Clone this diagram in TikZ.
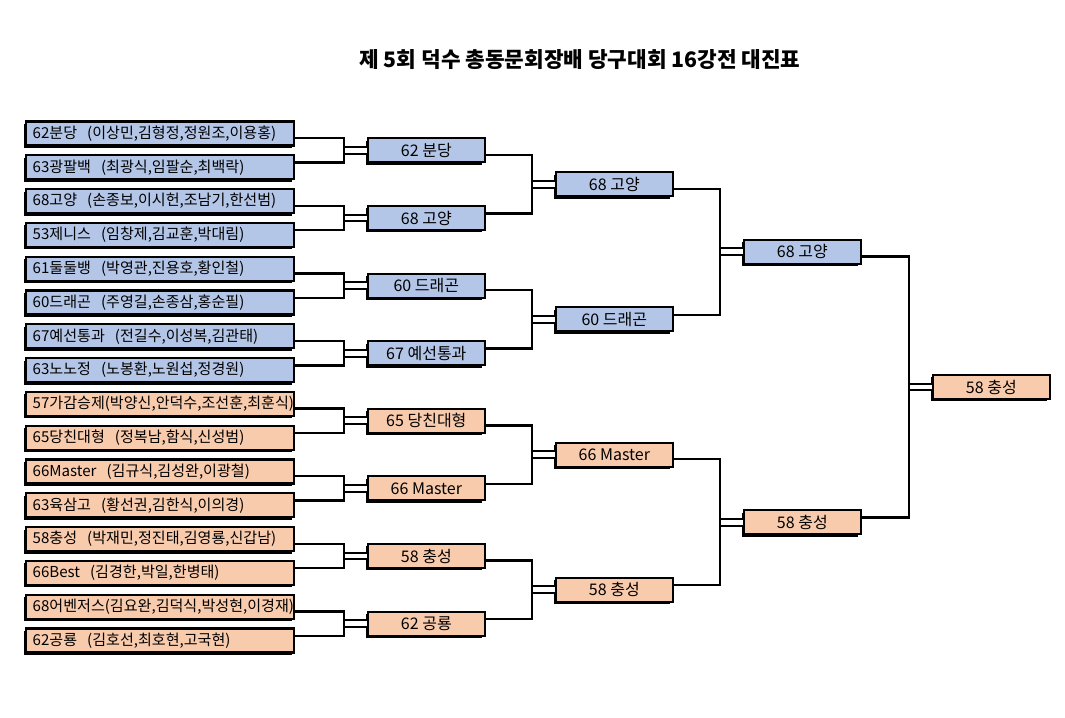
\documentclass[tikz,border=0pt]{standalone}
\usepackage{fontspec}
\newfontfamily\kr{Noto Sans CJK KR}
\usetikzlibrary{positioning,calc,shadows}

\definecolor{teamblue}{HTML}{B4C6E7}
\definecolor{teampeach}{HTML}{F8CBAD}

\begin{document}
\begin{tikzpicture}[x=0.75pt, y=-0.75pt, font=\kr\fontsize{11.3}{13}\selectfont,
          box/.style={draw, line width=1.6pt, minimum height=18pt, inner ysep=2pt,
                      drop shadow={shadow xshift=-1.8pt, shadow yshift=-1.8pt,
                                   fill=black, opacity=1}},
          team/.style={box, anchor=west, inner xsep=5pt, text width=191pt, align=left},
          win/.style={box, anchor=west, minimum width=87.4pt, text centered,
                      font=\kr\fontsize{12}{14}\selectfont},
          link/.style={line width=1.8pt},
          twin/.style={double, line width=1.5pt, double distance=3.5pt}]
        \useasboundingbox (0,0) rectangle (1065,718);
        \node[font=\kr\bfseries\fontsize{16}{18}\selectfont] (title) at (580,60)
          {제 5회 덕수 총동문회장배 당구대회 16강전 대진표};
        % 16 teams
        \node[team, fill=teamblue]  (t1)  at (25,133.5) {62분당\ \ (이상민,김형정,정원조,이용홍)};
        \node[team, fill=teamblue]  (t2)  at (25,167.3) {63광팔백\ \ (최광식,임팔순,최백락)};
        \node[team, fill=teamblue]  (t3)  at (25,201.1) {68고양\ \ (손종보,이시헌,조남기,한선범)};
        \node[team, fill=teamblue]  (t4)  at (25,234.9) {53제니스\ \ (임창제,김교훈,박대림)};
        \node[team, fill=teamblue]  (t5)  at (25,268.7) {61둘둘뱅\ \ (박영관,진용호,황인철)};
        \node[team, fill=teamblue]  (t6)  at (25,302.5) {60드래곤\ \ (주영길,손종삼,홍순필)};
        \node[team, fill=teamblue]  (t7)  at (25,336.3) {67예선통과\ \ (전길수,이성복,김관태)};
        \node[team, fill=teamblue]  (t8)  at (25,370.1) {63노노정\ \ (노봉환,노원섭,정경원)};
        \node[team, fill=teampeach] (t9)  at (25,403.9) {57가감승제(박양신,안덕수,조선훈,최훈식)};
        \node[team, fill=teampeach] (t10) at (25,437.7) {65당친대형\ \ (정복남,함식,신성범)};
        \node[team, fill=teampeach] (t11) at (25,471.5) {66Master\ \ (김규식,김성완,이광철)};
        \node[team, fill=teampeach] (t12) at (25,505.3) {63육삼고\ \ (황선권,김한식,이의경)};
        \node[team, fill=teampeach] (t13) at (25,539.1) {58충성\ \ (박재민,정진태,김영룡,신갑남)};
        \node[team, fill=teampeach] (t14) at (25,572.9) {66Best\ \ (김경한,박일,한병태)};
        \node[team, fill=teampeach] (t15) at (25,606.7) {68어벤저스(김요완,김덕식,박성현,이경재)};
        \node[team, fill=teampeach] (t16) at (25,640.5) {62공룡\ \ (김호선,최호현,고국현)};
        % round of 8
        \node[win, fill=teamblue]  (q1) at (367,150.4) {62 분당};
        \node[win, fill=teamblue]  (q2) at (367,218.0) {68 고양};
        \node[win, fill=teamblue]  (q3) at (367,285.6) {60 드래곤};
        \node[win, fill=teamblue]  (q4) at (367,353.2) {67 예선통과};
        \node[win, fill=teampeach] (q5) at (367,420.8) {65 당친대형};
        \node[win, fill=teampeach] (q6) at (367,488.4) {66 Master};
        \node[win, fill=teampeach] (q7) at (367,556.0) {58 충성};
        \node[win, fill=teampeach] (q8) at (367,623.6) {62 공룡};
        % semifinals, final, champion
        \node[win, fill=teamblue]  (s1) at (555,184.2) {68 고양};
        \node[win, fill=teamblue]  (s2) at (555,319.4) {60 드래곤};
        \node[win, fill=teampeach] (s3) at (555,454.6) {66 Master};
        \node[win, fill=teampeach] (s4) at (555,589.8) {58 충성};
        \node[win, fill=teamblue]  (f1) at (743,251.8) {68 고양};
        \node[win, fill=teampeach] (f2) at (743,522.2) {58 충성};
        \node[win, fill=teampeach] (ch) at (932,387.0) {58 충성};
        % brackets
        \foreach \a/\b/\w in {t1/t2/q1, t3/t4/q2, t5/t6/q3, t7/t8/q4,
                              t9/t10/q5, t11/t12/q6, t13/t14/q7, t15/t16/q8,
                              q1/q2/s1, q3/q4/s2, q5/q6/s3, q7/q8/s4,
                              s1/s2/f1, s3/s4/f2, f1/f2/ch} {
          \draw[twin] (\w.west) -- ++(-23,0) coordinate (j);
          \draw[link] ([yshift=-3.5pt]\a.east) -| (j) |- ([yshift=3.5pt]\b.east);
        }
\end{tikzpicture}
\end{document}
